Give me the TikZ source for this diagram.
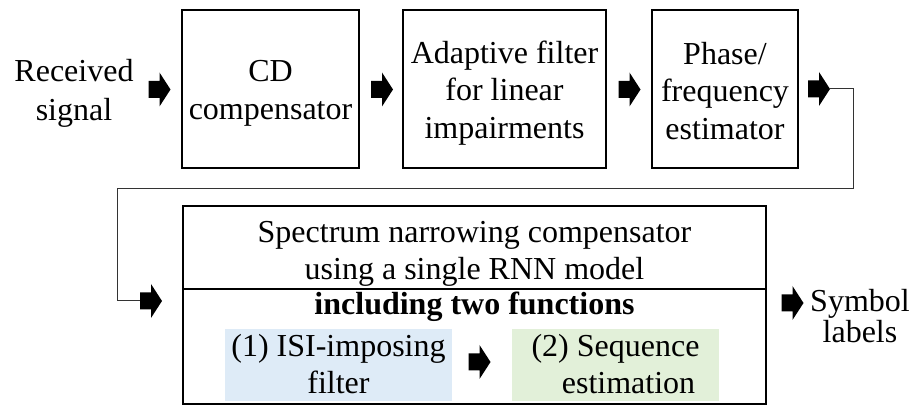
\documentclass[tikz,border=0pt]{standalone}
\usepackage{fontspec}
\setmainfont{Liberation Serif}
\begin{document}
\begin{tikzpicture}[
  x=0.5pt, y=-0.5pt,
  blockbox/.style={draw=black, line width=1pt, inner sep=0pt},
  shade/.style={inner sep=0pt, draw=none},
  txt/.style={font=\fontsize{16}{18.75}\selectfont, align=center, inner sep=0pt},
  link/.style={draw=black!80, line width=0.5pt},
  blockarrow/.pic={
    \fill[black] (-11,-8.5) -- (0,-8.5) -- (0,-17) -- (11,0) -- (0,17) -- (0,8.5) -- (-11,8.5) -- cycle;
    \coordinate (-tip) at (11,0);
    \coordinate (-tail) at (-11,0);
  }
]
\useasboundingbox (0,0) rectangle (923,406);

% upper chain of processing blocks
\node[blockbox, minimum width=88.5pt, minimum height=79pt] (cd) at (270.5,89) {};
\node[blockbox, minimum width=101.5pt, minimum height=79pt] (af) at (504.5,89) {};
\node[blockbox, minimum width=73pt, minimum height=79pt] (pf) at (725,89) {};

\node[txt, font=\fontsize{16}{19.5}\selectfont] (recv) at (74,93.5) {Received\\signal};
\node[txt] (cdt) at (270.5,93.5) {CD\\compensator};
\node[txt] (aft) at (504.5,93) {Adaptive filter\\for linear\\impairments};
\node[txt] (pft) at (725,91) {Phase/\\frequency\\estimator};

% spectrum narrowing compensator
\node[blockbox, minimum width=291.5pt, minimum height=99.25pt] (snc) at (474.5,305.25) {};
\coordinate (divL) at (183,289.5);
\coordinate (divR) at (766,289.5);
\draw[line width=1pt] (divL) -- (divR);

\node[shade, fill={rgb,255:red,222;green,235;blue,247}, minimum width=113.5pt, minimum height=36pt] (isi) at (338.5,365) {};
\node[shade, fill={rgb,255:red,226;green,240;blue,217}, minimum width=103.5pt, minimum height=36pt] (seq) at (615.5,365) {};

\node[txt] (snct) at (474.5,254) {Spectrum narrowing compensator\\using a single RNN model};
\node[txt, anchor=base, font=\fontsize{16}{18.75}\selectfont\bfseries] (inc) at (474.5,315) {including two functions};
\node[txt] (isit) at (338.5,364) {(1) ISI-imposing\\filter};
\node[txt] (seqt) at (615.5,364) {(2) Sequence\\\hspace*{13pt}estimation};

\node[txt, font=\fontsize{16}{13.5}\selectfont] (out) at (860,316.5) {Symbol\\labels};

% block arrows
\pic (a1) at (159.5,89.5) {blockarrow};
\pic (a2) at (382,89.5) {blockarrow};
\pic (a3) at (629.5,89.5) {blockarrow};
\pic (a4) at (819,89) {blockarrow};
\pic (a5) at (151,301) {blockarrow};
\pic (a6) at (479.5,362) {blockarrow};
\pic (a7) at (792.5,303) {blockarrow};

% feedback route from the phase estimator down to the compensator
\coordinate (bendR) at (853,189);
\coordinate (bendL) at (117,189);
\draw[link] (a4-tip) -| (bendR) -- (bendL) |- (a5-tail);
\end{tikzpicture}
\end{document}
